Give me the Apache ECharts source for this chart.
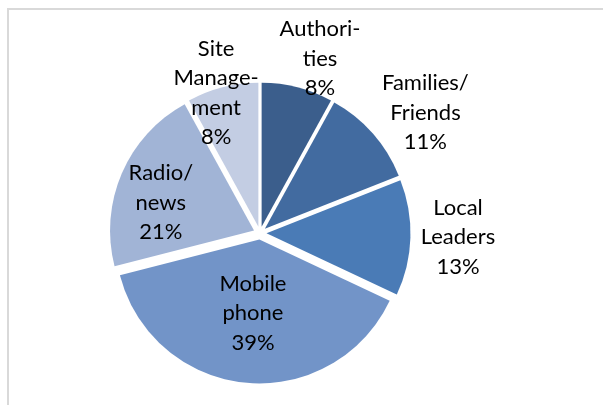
<!DOCTYPE html>
<html>
<head>
<meta charset="utf-8">
<script src="https://cdn.jsdelivr.net/npm/echarts@6/dist/echarts.min.js"></script>
<style>
html,body{margin:0;padding:0;background:#fff;}
#chart{width:603px;height:405px;}
</style>
</head>
<body>
<div id="chart"></div>
<script>
// Data
var categories = ['Authorities', 'Families/Friends', 'Local Leaders', 'Mobile phone', 'Radio/news', 'Site Management'];
var labelTexts = ['Authori-\nties', 'Families/\nFriends', 'Local\nLeaders', 'Mobile\nphone', 'Radio/\nnews', 'Site\nManage-\nment'];
var values = [8, 11, 13, 39, 21, 8];

// Styles
var colors = ['#3b5e8c', '#426ba0', '#4a7bb6', '#7294c8', '#a1b4d6', '#c3cde3'];
// label placement: [distance as fraction of radius, angular nudge in degrees]
var labelPlace = [[1.28, 4.6], [1.42, 5.4], [1.375, -0.6], [0.56, -0.4], [0.72, -6.5], [1.02, -3]];

var CX = 260, CY = 233, R = 144;

var total = values.reduce(function (a, b) { return a + b; }, 0);
var midAngles = [];
(function () {
  var acc = 0;
  for (var i = 0; i < values.length; i++) {
    midAngles.push((acc + values[i] / 2) / total * 360);
    acc += values[i];
  }
})();

var chart = echarts.init(document.getElementById('chart'), null, {renderer: 'canvas'});
var data = categories.map(function (c, i) {
  return {
    name: c,
    value: values[i],
    selected: true,
    itemStyle: {color: colors[i]},
    select: {itemStyle: {color: colors[i]}}
  };
});

var labelGraphics = categories.map(function (c, i) {
  var a = (midAngles[i] + labelPlace[i][1]) * Math.PI / 180;
  var rho = R * labelPlace[i][0];
  return {
    type: 'text',
    x: CX + rho * Math.sin(a),
    y: CY - rho * Math.cos(a),
    silent: true,
    z: 100,
    style: {
      text: labelTexts[i] + '\n' + values[i] + '%',
      fontFamily: 'Lato',
      fontSize: 22,
      lineHeight: 29.5,
      fill: '#000',
      align: 'center',
      verticalAlign: 'middle'
    }
  };
});

chart.setOption({
  animation: false,
  backgroundColor: '#fff',
  graphic: [{
    type: 'rect',
    shape: {x: 8, y: 9, width: 700, height: 500},
    style: {fill: 'none', stroke: '#d9d9d9', lineWidth: 2},
    silent: true
  }].concat(labelGraphics),
  series: [{
    type: 'pie',
    center: [CX, CY],
    radius: R,
    startAngle: 90,
    clockwise: true,
    selectedMode: 'multiple',
    selectedOffset: 6.5,
    silent: true,
    itemStyle: {borderWidth: 0},
    label: {show: false},
    labelLine: {show: false},
    data: data
  }]
});
</script>
</body>
</html>
